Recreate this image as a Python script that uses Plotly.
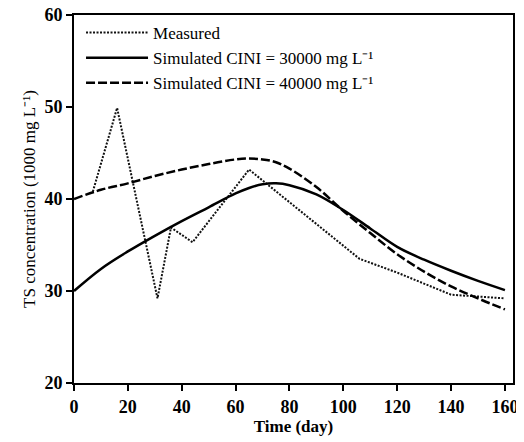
import plotly.graph_objects as go

# measured TS (1000 mg/L)
measured_day = [7, 16, 31, 36, 44, 65, 106, 120, 140, 160]
measured_ts = [40.8, 49.9, 29.2, 36.9, 35.3, 43.2, 33.5, 32.0, 29.6, 29.2]

sim_day = [0, 10, 20, 30, 40, 50, 60, 65, 70, 75, 80, 90, 100, 110, 120, 130, 140, 150, 160]
sim_30000 = [30.0, 32.4, 34.3, 36.0, 37.6, 39.1, 40.6, 41.2, 41.6, 41.7, 41.5, 40.5, 38.8,
             36.8, 34.8, 33.4, 32.2, 31.1, 30.1]
sim_40000 = [40.0, 41.0, 41.7, 42.5, 43.2, 43.8, 44.3, 44.4, 44.3, 44.0, 43.3, 41.3, 38.7,
             36.3, 34.0, 32.1, 30.5, 29.2, 28.0]

FONT = "Liberation Serif, Times New Roman, serif"
BLACK = "#000000"
SUP = "\u207b\u00b9"

fig = go.Figure()
fig.add_trace(go.Scatter(
    x=measured_day, y=measured_ts, mode="lines", name="Measured",
    line={"color": "#111111", "width": 2, "dash": "2px,1.5px"},
))
fig.add_trace(go.Scatter(
    x=sim_day, y=sim_30000, mode="lines",
    name="Simulated CINI = 30000 mg L" + SUP,
    line={"color": BLACK, "width": 2.5, "shape": "spline"},
))
fig.add_trace(go.Scatter(
    x=sim_day, y=sim_40000, mode="lines",
    name="Simulated CINI = 40000 mg L" + SUP,
    line={"color": BLACK, "width": 2.5, "shape": "spline", "dash": "9px,3px"},
))

# page body adds an 8px offset, so the figure is sized to fit inside the window
fig.update_layout(
    width=516,
    height=434,
    paper_bgcolor="white",
    plot_bgcolor="white",
    margin={"l": 66, "r": 11, "t": 7, "b": 59},
    font={"family": FONT, "color": BLACK, "size": 16},
    showlegend=True,
    legend={
        "x": 0.016, "y": 1.0, "xanchor": "left", "yanchor": "top",
        "bgcolor": "rgba(0,0,0,0)",
        "font": {"family": FONT, "size": 17},
        "tracegroupgap": 0,
        "itemwidth": 62,
    },
)

fig.update_xaxes(
    range=[0, 163],
    tickvals=[0, 20, 40, 60, 80, 100, 120, 140, 160],
    ticks="outside", ticklen=6, tickwidth=2, tickcolor=BLACK,
    showline=True, linecolor=BLACK, linewidth=2, mirror=True,
    showgrid=False, zeroline=False, automargin=False,
    ticklabeloverflow="allow",
    tickfont={"family": FONT, "size": 18, "weight": "bold"},
    title={"text": "<b>Time (day)</b>", "font": {"family": FONT, "size": 17}, "standoff": 0},
)
fig.update_yaxes(
    range=[20, 60],
    tickvals=[20, 30, 40, 50, 60],
    ticks="outside", ticklen=6, tickwidth=2, tickcolor=BLACK,
    showline=True, linecolor=BLACK, linewidth=2, mirror=True,
    showgrid=False, zeroline=False, automargin=False,
    ticklabeloverflow="allow",
    tickfont={"family": FONT, "size": 18, "weight": "bold"},
    title={"text": "TS concentration (1000 mg L" + SUP + ")",
           "font": {"family": FONT, "size": 17}, "standoff": 4},
)

fig.write_html("out.html")
